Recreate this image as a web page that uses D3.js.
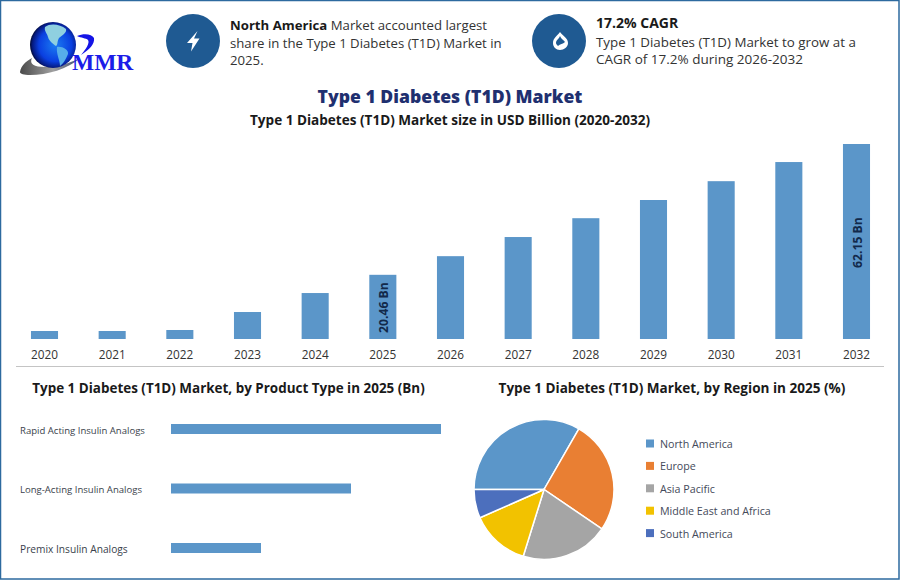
<!DOCTYPE html>
<html><head><meta charset="utf-8">
<script src="https://cdn.jsdelivr.net/npm/d3@7/dist/d3.min.js"></script>
<style>html,body{margin:0;padding:0;background:#fff}svg{display:block}text{font-family:"Open Sans",sans-serif}</style>
</head><body><svg id="c" width="900" height="580"></svg>
<script>
const years=["2020","2021","2022","2023","2024","2025","2026","2027","2028","2029","2030","2031","2032"];
const sizes=[2.55,2.55,2.87,8.6,14.65,20.46,26.4,32.5,38.5,44.3,50.3,56.4,62.15];
const sizeLabels={"2025":"20.46 Bn","2032":"62.15 Bn"};
const products=["Rapid Acting Insulin Analogs","Long-Acting Insulin Analogs","Premix Insulin Analogs"];
const productValues=[9,6,3];
const regions=["North America","Europe","Asia Pacific","Middle East and Africa","South America"];
const shares=[33.3,26.2,20.3,13.6,6.6];
const regionColors=["#5b96c9","#e97f33","#a5a5a5","#f2c200","#4c6fbd"];

const svg=d3.select("#c");
svg.append("rect").attr("x",0.5).attr("y",0.5).attr("width",898.5).attr("height",578.5).attr("fill","#fff").attr("stroke","#2d6a9f").attr("stroke-width",1.5);

// logo
const defs=svg.append("defs");
const g=defs.append("radialGradient").attr("id","globe").attr("cx","0.55").attr("cy","0.5").attr("r","0.55");
g.append("stop").attr("offset","0").attr("stop-color","#1b7cf2");
g.append("stop").attr("offset","0.65").attr("stop-color","#0a3fe0");
g.append("stop").attr("offset","0.9").attr("stop-color","#051a80");
g.append("stop").attr("offset","1").attr("stop-color","#020a30");
const sw=defs.append("linearGradient").attr("id","sw");
sw.append("stop").attr("offset","0").attr("stop-color","#4a4a4a");
sw.append("stop").attr("offset","0.55").attr("stop-color","#a0a0a0");
sw.append("stop").attr("offset","1").attr("stop-color","#3a4a70");
const logo=svg.append("g");
logo.append("path").attr("d","M20 72 C21 66 25 62 32 58 C29 64 34 67 45 67 C55 67 66 65 80 58 C68 69 47 75 30 75 C24 75 20 74 20 72Z").attr("fill","url(#sw)");
logo.append("circle").attr("cx",53).attr("cy",45).attr("r",23).attr("fill","url(#globe)");
logo.append("path").attr("d","M45 27 C50 23 60 24 66 29 C67 33 62 35 59 38 C57 41 58 45 56 46 C53 44 49 41 48 37 C47 33 44 31 45 27Z").attr("fill","#8fd0e0");
logo.append("path").attr("d","M57 47 C62 46 69 50 68 54 C66 59 63 64 60 66 C60 60 56 54 57 47Z").attr("fill","#56aeea");
logo.append("path").attr("d","M77 36 C84 33 92 34 94 38 C95 44 89 50 81 55 C86 49 90 43 88 40 C86 38 81 38 77 36Z").attr("fill","#1414e6");
svg.append("text").attr("x",72).attr("y",69.5).style("font-family","'Liberation Serif',serif").attr("font-size",23.5).attr("font-weight",700).attr("fill","#1c1ce8").text("MMR");

// info circles
svg.append("circle").attr("cx",193).attr("cy",41).attr("r",27).attr("fill","#1f5a92");
svg.append("path").attr("d","M197.5 31 L187 43 L192.5 43 L191 51.5 L199.5 38.5 L194 38.5Z").attr("fill","#fff");
svg.append("circle").attr("cx",559).attr("cy",41).attr("r",27).attr("fill","#1f5a92");
svg.append("path").attr("d","M560 32 C557 36 553 38 553 43 C553 47 556 50 560 50 C564 50 568 47 568 43 C568 38 563 36 560 32Z").attr("fill","#fff");
svg.append("path").attr("d","M560 36 C559 39 556 40 556 43 C556 44 557 45 558 46 C560 44 563 44 565 42 C564 40 561 39 560 36Z").attr("fill","#1f5a92");

function line(x,y,parts,size,fill){
  const t=svg.append("text").attr("x",x).attr("y",y).attr("font-size",size).attr("fill",fill||"#333");
  parts.forEach(p=>t.append("tspan").attr("font-weight",p[1]?700:400).attr("fill",p[1]?"#1a1a1a":null).text(p[0]));
  return t;
}
line(230,30,[["North America",true],[" Market accounted largest",false]],13.2);
line(230,47.5,[["share in the Type 1 Diabetes (T1D) Market in",false]],13.2);
line(230,65,[["2025.",false]],13.2);
line(596,28,[["17.2% CAGR",true]],14);
line(596,47,[["Type 1 Diabetes (T1D) Market to grow at a",false]],13.35);
line(596,64,[["CAGR of 17.2% during 2026-2032",false]],13.5);

svg.append("text").attr("x",450).attr("y",103).attr("text-anchor","middle").attr("font-size",17.6).attr("font-weight",800).attr("fill","#1f3070").text("Type 1 Diabetes (T1D) Market");
svg.append("text").attr("x",450).attr("y",125).attr("text-anchor","middle").attr("font-size",13.55).attr("font-weight",700).attr("fill","#1a1a1a").text("Type 1 Diabetes (T1D) Market size in USD Billion (2020-2032)");

// bars
const x=d3.scaleBand().domain(years).range([10.67,890.33]).paddingInner(0.6).paddingOuter(0.3);
const y=d3.scaleLinear().domain([0,62.15]).range([339,144]);
svg.append("g").selectAll("rect").data(years).join("rect")
 .attr("x",d=>x(d)).attr("width",x.bandwidth())
 .attr("y",(d,i)=>y(sizes[i])).attr("height",(d,i)=>339-y(sizes[i])).attr("fill","#5b96c9");
const ax=svg.append("g").attr("transform","translate(0,339)").call(d3.axisBottom(x).tickSize(0).tickPadding(9));
ax.select(".domain").remove();
ax.selectAll("text").style("font-family","'Open Sans',sans-serif").attr("font-size",11.8).attr("fill","#333").attr("dy","0.95em");
svg.append("g").selectAll("text").data(years.filter(d=>sizeLabels[d])).join("text")
 .attr("transform",d=>`translate(${x(d)+x.bandwidth()/2+5.5},${d==="2025"?333:268}) rotate(-90)`)
 .attr("font-size",12.2).attr("font-weight",700).attr("fill","#12294a").text(d=>sizeLabels[d]);
svg.append("line").attr("x1",16).attr("x2",884).attr("y1",366.5).attr("y2",366.5).attr("stroke","#c4c4c4").attr("stroke-width",1);

// product
svg.append("text").attr("x",228.5).attr("y",393).attr("text-anchor","middle").attr("font-size",13.45).attr("font-weight",700).attr("fill","#1a1a1a").text("Type 1 Diabetes (T1D) Market, by Product Type in 2025 (Bn)");
const hy=d3.scalePoint().domain(products).range([429,548]);
const hx=d3.scaleLinear().domain([0,9]).range([171,441]);
svg.append("g").selectAll("rect").data(products).join("rect")
 .attr("x",171).attr("y",d=>hy(d)-5).attr("height",10)
 .attr("width",(d,i)=>hx(productValues[i])-171).attr("fill","#5b96c9");
svg.append("g").selectAll("text").data(products).join("text")
 .attr("x",20).attr("y",d=>hy(d)+4.5).attr("font-size",(d,i)=>i===2?10.2:9.55).attr("fill","#3a3f4c").text(d=>d);

// pie
svg.append("text").attr("x",672).attr("y",393).attr("text-anchor","middle").attr("font-size",13.55).attr("font-weight",700).attr("fill","#1a1a1a").text("Type 1 Diabetes (T1D) Market, by Region in 2025 (%)");
const pie=d3.pie().sort(null).startAngle(-Math.PI/2).endAngle(1.5*Math.PI)(shares);
const arc=d3.arc().innerRadius(0).outerRadius(70);
svg.append("g").attr("transform","translate(544,489.5)").selectAll("path").data(pie).join("path")
 .attr("d",arc).attr("fill",(d,i)=>regionColors[i]).attr("stroke","#fff").attr("stroke-width",1.5);
const leg=svg.append("g").selectAll("g").data(regions).join("g").attr("transform",(d,i)=>`translate(646,${439.5+i*22.4})`);
leg.append("rect").attr("width",8).attr("height",8).attr("fill",(d,i)=>regionColors[i]);
leg.append("text").attr("x",14).attr("y",8.5).attr("font-size",10.7).attr("fill","#444a5a").text(d=>d);
</script></body></html>
